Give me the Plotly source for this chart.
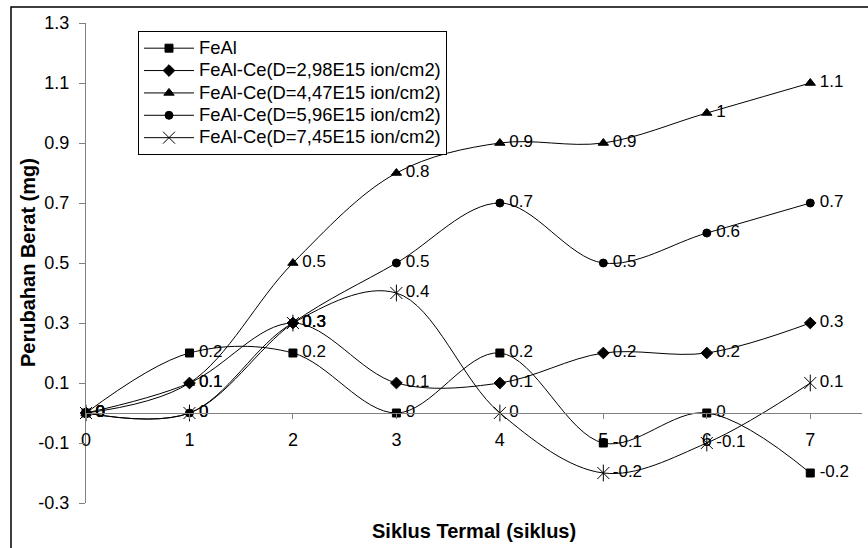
import plotly.graph_objects as go

# ---- data ----
cycles = [0, 1, 2, 3, 4, 5, 6, 7]
series_names = [
    "FeAl",
    "FeAl-Ce(D=2,98E15 ion/cm2)",
    "FeAl-Ce(D=4,47E15 ion/cm2)",
    "FeAl-Ce(D=5,96E15 ion/cm2)",
    "FeAl-Ce(D=7,45E15 ion/cm2)",
]
feal = [0, 0.2, 0.2, 0, 0.2, -0.1, 0, -0.2]
d298 = [0, 0.1, 0.3, 0.1, 0.1, 0.2, 0.2, 0.3]
d447 = [0, 0.1, 0.5, 0.8, 0.9, 0.9, 1, 1.1]
d596 = [0, 0, 0.3, 0.5, 0.7, 0.5, 0.6, 0.7]
d745 = [0, 0, 0.3, 0.4, 0, -0.2, -0.1, 0.1]
y_ticks = [-0.3, -0.1, 0.1, 0.3, 0.5, 0.7, 0.9, 1.1, 1.3]
x_ticks = [0, 1, 2, 3, 4, 5, 6, 7]

FONT = "Liberation Sans, Arial, sans-serif"
W, H = 868, 548
ML, MR, MT, MB = 86, 6, 23, 45
PW, PH = W - ML - MR, H - MT - MB


def px_x(p):
    return (p - ML) / PW


def px_y(p):
    return (H - MB - p) / PH


def lab(v):
    return f"{v:g}"


symbols = ["square", "diamond", "triangle-up", "circle", "x-thin-open"]
sizes = [8, 9, 9, 8, 12]
values = [feal, d298, d447, d596, d745]

fig = go.Figure()
for name, vals, sym, sz in zip(series_names, values, symbols, sizes):
    fig.add_trace(go.Scatter(
        x=cycles, y=vals,
        name=f'<span style="font-size:18.4px">{name}</span>',
        mode="lines+markers",
        line=dict(color="black", width=1, shape="spline", smoothing=1),
        marker=dict(symbol=sym, size=sz, color="black",
                    line=dict(color="black", width=1)),
        cliponaxis=False,
    ))
# vertical bar of the asterisk marker
fig.add_trace(go.Scatter(
    x=cycles, y=d745, mode="markers", showlegend=False, hoverinfo="skip",
    marker=dict(symbol="line-ns-open", size=12, color="black",
                line=dict(color="black", width=1)),
    cliponaxis=False,
))
# data labels (same offset for every series)
for vals in values:
    fig.add_trace(go.Scatter(
        x=cycles, y=vals, mode="text", showlegend=False, hoverinfo="skip",
        text=["&nbsp;&nbsp;" + lab(v) for v in vals],
        textposition="middle right",
        textfont=dict(family=FONT, size=17, color="black"),
        cliponaxis=False,
    ))

fig.update_layout(
    width=W, height=H,
    margin=dict(l=ML, r=MR, t=MT, b=MB, autoexpand=False),
    paper_bgcolor="white", plot_bgcolor="white",
    font=dict(family=FONT, size=18, color="black"),
    showlegend=True,
    legend=dict(
        x=px_x(138), y=px_y(31), xanchor="left", yanchor="top",
        bgcolor="white", bordercolor="black", borderwidth=1,
        font=dict(family=FONT, size=14.9, color="black"),
        itemwidth=50,
    ),
    xaxis=dict(
        range=[0, 7.5], tickmode="array", tickvals=x_ticks,
        ticktext=[str(v) for v in x_ticks],
        showgrid=False, zeroline=False,
        showline=True, linecolor="#808080", linewidth=1,
        ticks="outside", ticklen=5, tickcolor="#808080",
        ticklabelstandoff=5,
        anchor="free", position=0.3 / 1.6,
        tickfont=dict(family=FONT, size=18),
    ),
    yaxis=dict(
        range=[-0.3, 1.3], tickmode="array", tickvals=y_ticks,
        ticktext=[lab(v) for v in y_ticks],
        showgrid=False, zeroline=False,
        showline=True, linecolor="#808080", linewidth=1,
        ticks="outside", ticklen=6, tickcolor="#808080",
        ticklabelstandoff=6,
        tickfont=dict(family=FONT, size=18),
    ),
    annotations=[
        dict(text="<b>Siklus Termal (siklus)</b>", xref="paper", yref="paper",
             x=0.5, y=px_y(531), xanchor="center", yanchor="middle",
             showarrow=False, font=dict(family=FONT, size=20, color="black")),
        dict(text="<b>Perubahan Berat (mg)</b>", xref="paper", yref="paper",
             x=px_x(28), y=0.5, xanchor="center", yanchor="middle",
             textangle=-90, showarrow=False,
             font=dict(family=FONT, size=20, color="black")),
    ],
    shapes=[
        dict(type="rect", xref="paper", yref="paper",
             x0=px_x(11), y0=px_y(560), x1=px_x(880), y1=px_y(7),
             line=dict(color="black", width=1.5), fillcolor="rgba(0,0,0,0)",
             layer="below"),
    ],
)

fig.write_html("out.html")
